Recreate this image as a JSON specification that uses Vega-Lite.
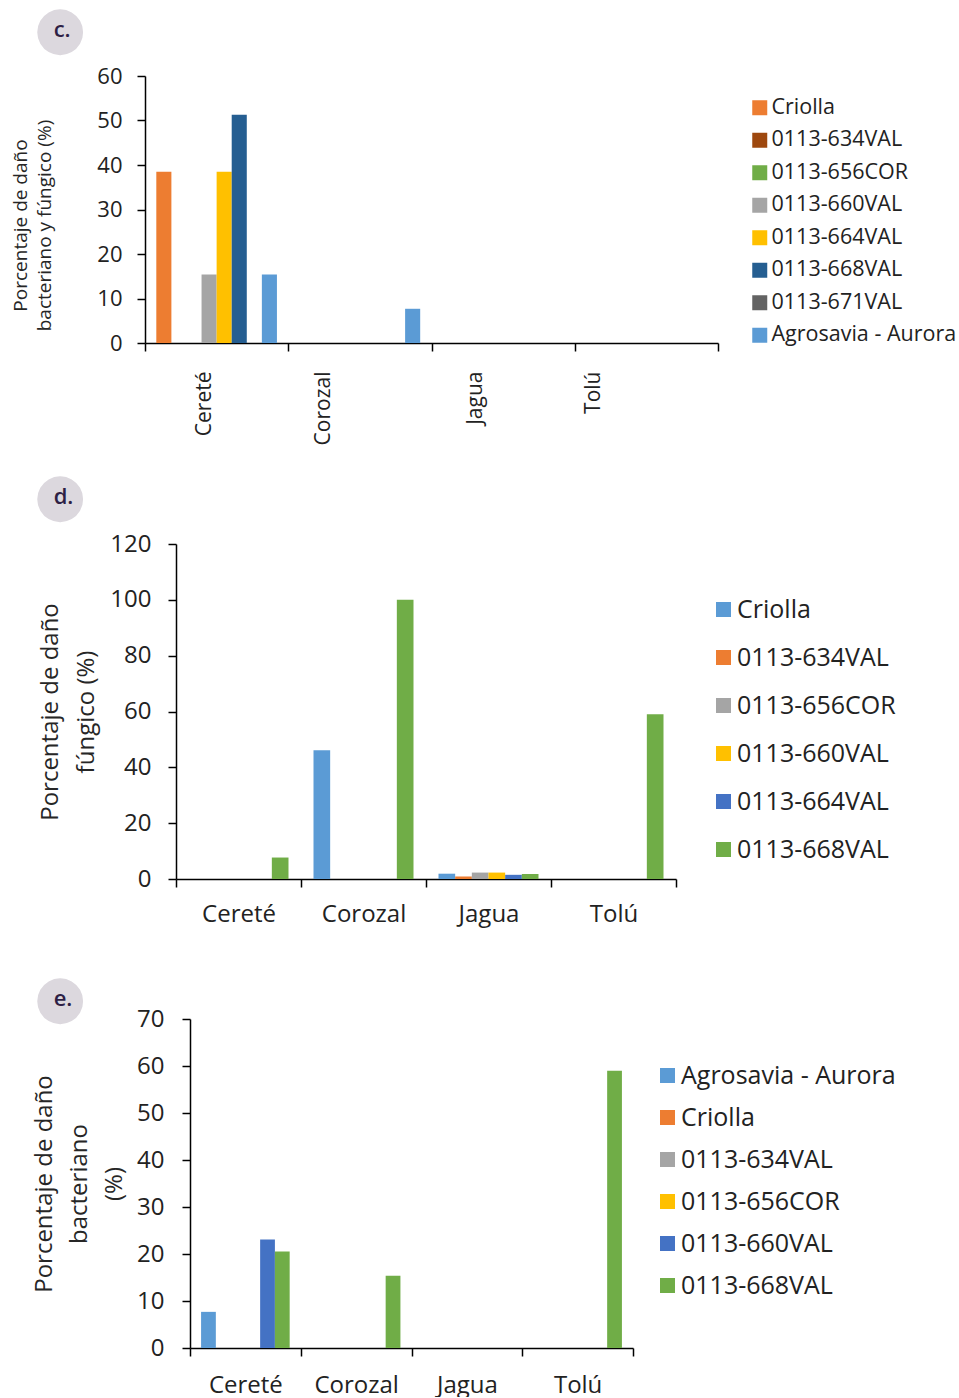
{
  "$schema": "https://vega.github.io/schema/vega-lite/v6.json",
  "padding": {"left": 11, "top": 0, "right": 0, "bottom": 0},
  "columns": 1,
  "align": "none",
  "spacing": 22,
  "datasets": {
    "c": [
      {"loc": "Cereté", "var": "Criolla", "val": 38.46},
      {"loc": "Cereté", "var": "0113-634VAL", "val": 0},
      {"loc": "Cereté", "var": "0113-656COR", "val": 0},
      {"loc": "Cereté", "var": "0113-660VAL", "val": 15.38},
      {"loc": "Cereté", "var": "0113-664VAL", "val": 38.46},
      {"loc": "Cereté", "var": "0113-668VAL", "val": 51.28},
      {"loc": "Cereté", "var": "0113-671VAL", "val": 0},
      {"loc": "Cereté", "var": "Agrosavia - Aurora", "val": 15.38},
      {"loc": "Corozal", "var": "Criolla", "val": 0},
      {"loc": "Corozal", "var": "0113-634VAL", "val": 0},
      {"loc": "Corozal", "var": "0113-656COR", "val": 0},
      {"loc": "Corozal", "var": "0113-660VAL", "val": 0},
      {"loc": "Corozal", "var": "0113-664VAL", "val": 0},
      {"loc": "Corozal", "var": "0113-668VAL", "val": 0},
      {"loc": "Corozal", "var": "0113-671VAL", "val": 0},
      {"loc": "Corozal", "var": "Agrosavia - Aurora", "val": 7.69},
      {"loc": "Jagua", "var": "Criolla", "val": 0},
      {"loc": "Jagua", "var": "Agrosavia - Aurora", "val": 0},
      {"loc": "Tolú", "var": "Criolla", "val": 0},
      {"loc": "Tolú", "var": "Agrosavia - Aurora", "val": 0}
    ],
    "d": [
      {"loc": "Cereté", "var": "Criolla", "val": 0},
      {"loc": "Cereté", "var": "0113-634VAL", "val": 0},
      {"loc": "Cereté", "var": "0113-656COR", "val": 0},
      {"loc": "Cereté", "var": "0113-660VAL", "val": 0},
      {"loc": "Cereté", "var": "0113-664VAL", "val": 0},
      {"loc": "Cereté", "var": "0113-668VAL", "val": 7.69},
      {"loc": "Corozal", "var": "Criolla", "val": 46.15},
      {"loc": "Corozal", "var": "0113-634VAL", "val": 0},
      {"loc": "Corozal", "var": "0113-656COR", "val": 0},
      {"loc": "Corozal", "var": "0113-660VAL", "val": 0},
      {"loc": "Corozal", "var": "0113-664VAL", "val": 0},
      {"loc": "Corozal", "var": "0113-668VAL", "val": 100},
      {"loc": "Jagua", "var": "Criolla", "val": 1.9},
      {"loc": "Jagua", "var": "0113-634VAL", "val": 0.9},
      {"loc": "Jagua", "var": "0113-656COR", "val": 2.3},
      {"loc": "Jagua", "var": "0113-660VAL", "val": 2.3},
      {"loc": "Jagua", "var": "0113-664VAL", "val": 1.5},
      {"loc": "Jagua", "var": "0113-668VAL", "val": 1.8},
      {"loc": "Tolú", "var": "Criolla", "val": 0},
      {"loc": "Tolú", "var": "0113-634VAL", "val": 0},
      {"loc": "Tolú", "var": "0113-656COR", "val": 0},
      {"loc": "Tolú", "var": "0113-660VAL", "val": 0},
      {"loc": "Tolú", "var": "0113-664VAL", "val": 0},
      {"loc": "Tolú", "var": "0113-668VAL", "val": 59}
    ],
    "e": [
      {"loc": "Cereté", "var": "Agrosavia - Aurora", "val": 7.69},
      {"loc": "Cereté", "var": "Criolla", "val": 0},
      {"loc": "Cereté", "var": "0113-634VAL", "val": 0},
      {"loc": "Cereté", "var": "0113-656COR", "val": 0},
      {"loc": "Cereté", "var": "0113-660VAL", "val": 23.08},
      {"loc": "Cereté", "var": "0113-668VAL", "val": 20.51},
      {"loc": "Corozal", "var": "Agrosavia - Aurora", "val": 0},
      {"loc": "Corozal", "var": "0113-668VAL", "val": 15.38},
      {"loc": "Jagua", "var": "Agrosavia - Aurora", "val": 0},
      {"loc": "Jagua", "var": "0113-668VAL", "val": 0},
      {"loc": "Tolú", "var": "Agrosavia - Aurora", "val": 0},
      {"loc": "Tolú", "var": "0113-668VAL", "val": 58.97}
    ]
  },
  "concat": [
    {
      "width": 573, "height": 267,
      "title": {"text": "●", "subtitle": "\u2800\u2009c.", "dx": -111},
      "data": {"name": "c"},
      "mark": {"type": "bar"},
      "encoding": {
        "x": {"field": "loc", "type": "nominal", "sort": ["Cereté", "Corozal", "Jagua", "Tolú"],
          "scale": {"paddingInner": 0, "paddingOuter": 0},
          "axis": {"title": null, "labelAngle": -90, "tickBand": "extent", "labelFontSize": 21, "labelPadding": 20,
            "labelOffset": {"condition": [
              {"test": "datum.value === 'Cereté'", "value": -12},
              {"test": "datum.value === 'Corozal'", "value": -36},
              {"test": "datum.value === 'Jagua'", "value": -28}], "value": -53}}},
        "xOffset": {"field": "var", "type": "nominal",
          "scale": {"domain": ["Criolla", "0113-634VAL", "0113-656COR", "0113-660VAL", "0113-664VAL", "0113-668VAL", "0113-671VAL", "Agrosavia - Aurora"], "paddingInner": 0, "paddingOuter": 0.75}},
        "y": {"field": "val", "type": "quantitative", "scale": {"domain": [0, 60]},
          "axis": {"values": [0, 10, 20, 30, 40, 50, 60], "title": ["Porcentaje de daño", "bacteriano y fúngico (%)"],
            "titleFontSize": 19, "titleLineHeight": 24, "titlePadding": 42, "titleY": 149, "labelFontSize": 22, "labelPadding": 15}},
        "color": {"field": "var", "type": "nominal",
          "scale": {"domain": ["Criolla", "0113-634VAL", "0113-656COR", "0113-660VAL", "0113-664VAL", "0113-668VAL", "0113-671VAL", "Agrosavia - Aurora"],
            "range": ["#ED7D31", "#9E480E", "#70AD47", "#A5A5A5", "#FFC000", "#255E91", "#636363", "#5B9BD5"]},
          "legend": {"orient": "none", "legendX": 604, "legendY": 21, "labelFontSize": 21.5, "rowPadding": 9.5, "labelOffset": 1}}
      }
    },
    {
      "width": 531, "height": 335,
      "title": {"text": "●", "subtitle": "\u2800\u2009d.", "dx": -111},
      "data": {"name": "d"},
      "mark": {"type": "bar"},
      "encoding": {
        "x": {"field": "loc", "type": "nominal", "sort": ["Cereté", "Corozal", "Jagua", "Tolú"],
          "scale": {"paddingInner": 0, "paddingOuter": 0, "range": [31, 531]},
          "axis": {"title": null, "labelAngle": 0, "tickBand": "extent", "labelFontSize": 24, "labelPadding": 15}},
        "xOffset": {"field": "var", "type": "nominal",
          "scale": {"domain": ["Criolla", "0113-634VAL", "0113-656COR", "0113-660VAL", "0113-664VAL", "0113-668VAL"], "paddingInner": 0, "paddingOuter": 0.75}},
        "y": {"field": "val", "type": "quantitative", "scale": {"domain": [0, 120]},
          "axis": {"offset": -31, "values": [0, 20, 40, 60, 80, 100, 120], "title": ["Porcentaje de daño", "fúngico (%)"],
            "titleFontSize": 24, "titleLineHeight": 36, "titlePadding": 11, "labelFontSize": 24, "labelPadding": 17}},
        "color": {"field": "var", "type": "nominal",
          "scale": {"domain": ["Criolla", "0113-634VAL", "0113-656COR", "0113-660VAL", "0113-664VAL", "0113-668VAL"],
            "range": ["#5B9BD5", "#ED7D31", "#A5A5A5", "#FFC000", "#4472C4", "#70AD47"]},
          "legend": {"orient": "none", "legendX": 566, "legendY": 53, "labelFontSize": 25, "rowPadding": 22, "labelOffset": 1}}
      }
    },
    {
      "width": 488, "height": 329,
      "title": {"text": ["\u2800", "●"], "lineHeight": 21, "subtitle": "\u2800\u2009e.", "dx": -111, "offset": -23},
      "data": {"name": "e"},
      "mark": {"type": "bar"},
      "encoding": {
        "x": {"field": "loc", "type": "nominal", "sort": ["Cereté", "Corozal", "Jagua", "Tolú"],
          "scale": {"paddingInner": 0, "paddingOuter": 0, "range": [45, 488]},
          "axis": {"title": null, "labelAngle": 0, "tickBand": "extent", "labelFontSize": 24, "labelPadding": 17}},
        "xOffset": {"field": "var", "type": "nominal",
          "scale": {"domain": ["Agrosavia - Aurora", "Criolla", "0113-634VAL", "0113-656COR", "0113-660VAL", "0113-668VAL"], "paddingInner": 0, "paddingOuter": 0.75}},
        "y": {"field": "val", "type": "quantitative", "scale": {"domain": [0, 70]},
          "axis": {"offset": -45, "values": [0, 10, 20, 30, 40, 50, 60, 70], "title": ["Porcentaje de daño", "bacteriano", "(%)"],
            "titleFontSize": 24, "titleLineHeight": 35, "titlePadding": 10, "labelFontSize": 24, "labelPadding": 18}},
        "color": {"field": "var", "type": "nominal",
          "scale": {"domain": ["Agrosavia - Aurora", "Criolla", "0113-634VAL", "0113-656COR", "0113-660VAL", "0113-668VAL"],
            "range": ["#5B9BD5", "#ED7D31", "#A5A5A5", "#FFC000", "#4472C4", "#70AD47"]},
          "legend": {"orient": "none", "legendX": 510, "legendY": 44, "labelFontSize": 25, "rowPadding": 16, "labelOffset": 1}}
      }
    }
  ],
  "resolve": {"scale": {"x": "independent", "xOffset": "independent", "y": "independent", "color": "independent"}},
  "config": {
    "font": "Open Sans",
    "view": {"stroke": null},
    "axis": {"grid": false, "domainColor": "#000000", "tickColor": "#000000", "domainWidth": 1.5, "tickWidth": 1.5, "tickSize": 8,
      "labelColor": "#222222", "titleColor": "#262626", "labelFont": "Open Sans", "titleFont": "Open Sans", "titleFontWeight": "normal"},
    "legend": {"title": null, "symbolType": "square", "symbolSize": 225, "symbolStrokeWidth": 0, "labelColor": "#222222", "labelFont": "Open Sans", "padding": 0, "labelLimit": 400},
    "title": {"anchor": "start", "frame": "group", "align": "left", "font": "DejaVu Sans", "fontSize": 60, "color": "#dcd8de", "baseline": "top",
      "subtitleFont": "Open Sans", "subtitleFontSize": 22, "subtitleFontWeight": 600, "subtitleColor": "#2e1f45", "subtitlePadding": -41, "offset": 0}
  }
}
